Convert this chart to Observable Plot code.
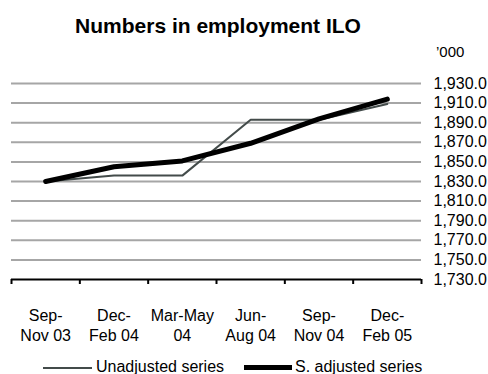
<!DOCTYPE html>
<html><head><meta charset="utf-8">
<script src="https://cdn.jsdelivr.net/npm/d3@7"></script>
<script src="https://cdn.jsdelivr.net/npm/@observablehq/plot@0.6"></script>
<style>
body{margin:0;background:#fff;font-family:"Liberation Sans",Arial,Helvetica,sans-serif;}
#wrap{position:relative;width:488px;height:374px;overflow:hidden;background:#fff}
#wrap svg{position:absolute;left:0;top:0}
.t{position:absolute;white-space:nowrap;line-height:1;color:#000;z-index:2}
.sw{position:absolute;z-index:2}
</style></head><body>
<div id="wrap">
<div class="t" id="title" style="left:0;width:436px;text-align:center;top:15px;font-size:21px;font-weight:bold">Numbers in employment ILO</div>
<div class="t" id="unit" style="left:436px;top:44px;font-size:15px">’000</div>
<div id="legend"></div>
</div>
<script>
const categories = ["Sep-\nNov 03", "Dec-\nFeb 04", "Mar-May\n04", "Jun-\nAug 04", "Sep-\nNov 04", "Dec-\nFeb 05"];
const unadjusted = [1830, 1836, 1836, 1893, 1893, 1909];
const adjusted = [1830, 1845, 1851, 1869, 1894, 1914];
const yTicks = [1730, 1750, 1770, 1790, 1810, 1830, 1850, 1870, 1890, 1910, 1930];
const seriesNames = ["Unadjusted series", "S. adjusted series"];
const seriesColors = ["#434b4a", "#000000"];
const seriesWidths = [2, 5];

const rows = [];
categories.forEach((c, i) => {
  rows.push({pos: i + 0.5, value: unadjusted[i], series: seriesNames[0]});
  rows.push({pos: i + 0.5, value: adjusted[i], series: seriesNames[1]});
});

const chart = Plot.plot({
  width: 488, height: 374,
  marginTop: 83, marginBottom: 95, marginLeft: 11, marginRight: 67,
  x: {domain: [0, categories.length]},
  y: {domain: [yTicks[0], yTicks[yTicks.length - 1]]},
  style: {fontFamily: "Liberation Sans, Arial, Helvetica, sans-serif", fontSize: "16px", color: "#000", background: "transparent"},
  marks: [
    Plot.ruleY(yTicks.slice(1), {stroke: "#a6a6a6", strokeWidth: 2}),
    Plot.ruleY([yTicks[0]], {stroke: "#000", strokeWidth: 2}),
    Plot.axisY({anchor: "right", ticks: yTicks, tickSize: 0, tickPadding: 12, tickFormat: d3.format(",.1f"), label: null}),
    Plot.axisX({ticks: d3.range(categories.length + 1), tickSize: 5, tickFormat: () => "", stroke: "#000", strokeWidth: 2, label: null}),
    Plot.axisX({ticks: categories.map((c, i) => i + 0.5), tickSize: 0, tickPadding: 27, tickFormat: d => categories[Math.floor(d)], lineHeight: 1.25, label: null}),
    Plot.line(rows.filter(d => d.series === seriesNames[0]), {x: "pos", y: "value", stroke: seriesColors[0], strokeWidth: seriesWidths[0], strokeLinejoin: "round"}),
    Plot.line(rows.filter(d => d.series === seriesNames[1]), {x: "pos", y: "value", stroke: seriesColors[1], strokeWidth: seriesWidths[1], strokeLinejoin: "round"})
  ]
});
document.getElementById("wrap").appendChild(chart);

// legend
const legend = document.getElementById("legend");
const legendPos = [{sw: 43, swW: 49, text: 96}, {sw: 244, swW: 48, text: 295}];
seriesNames.forEach((name, k) => {
  const sw = document.createElement("div");
  sw.className = "sw";
  sw.style.left = legendPos[k].sw + "px";
  sw.style.width = legendPos[k].swW + "px";
  sw.style.height = seriesWidths[k] + "px";
  sw.style.top = (367.6 - seriesWidths[k] / 2) + "px";
  sw.style.background = seriesColors[k];
  legend.appendChild(sw);
  const t = document.createElement("div");
  t.className = "t";
  t.style.left = legendPos[k].text + "px";
  t.style.top = "358.5px";
  t.style.fontSize = "16px";
  t.textContent = name;
  legend.appendChild(t);
});
</script>
</body></html>
